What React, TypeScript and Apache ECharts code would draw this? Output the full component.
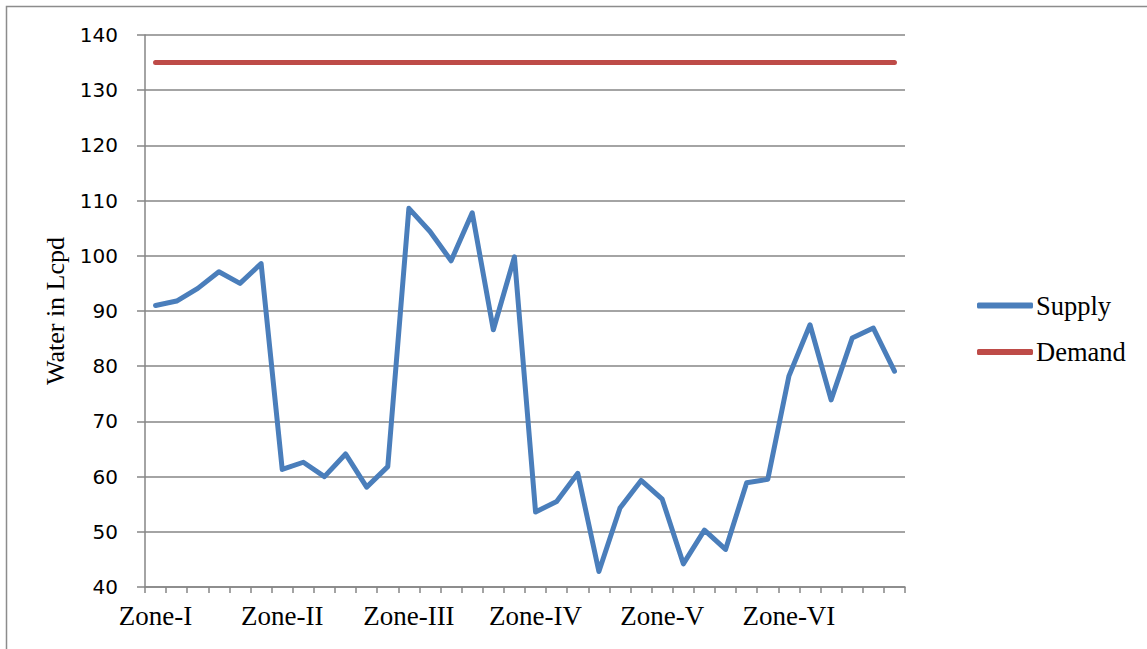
import React, { useEffect, useRef } from "react";
import * as echarts from "echarts";

const zoneLabels = ["Zone-I", "Zone-II", "Zone-III", "Zone-IV", "Zone-V", "Zone-VI"];
const pointsPerZone = 6;
const supply = [
  91.0, 91.8, 94.1, 97.1, 95.0, 98.6,
  61.3, 62.6, 60.0, 64.1, 58.1, 61.8,
  108.6, 104.4, 99.1, 107.8, 86.6, 99.8,
  53.6, 55.5, 60.6, 42.8, 54.3, 59.3,
  55.9, 44.2, 50.3, 46.8, 58.9, 59.5,
  78.2, 87.5, 73.9, 85.1, 86.9, 79.1,
];
const demand = supply.map(() => 135);
const categories = supply.map((_, i) => (i % pointsPerZone === 0 ? zoneLabels[i / pointsPerZone] : ""));

export default function App() {
  const ref = useRef<HTMLDivElement>(null);
  useEffect(() => {
    if (!ref.current) return;
    const chart = echarts.init(ref.current, undefined, { renderer: "svg" });
    const serif = "'Liberation Serif', 'Times New Roman', serif";
    const sans = "'DejaVu Sans', Verdana, sans-serif";
    chart.setOption({
      animation: false,
      backgroundColor: "#ffffff",
      graphic: [
        {
          type: "rect",
          shape: { x: 6.5, y: 6.5, width: 1200, height: 700 },
          style: { fill: "none", stroke: "#8c8c8c", lineWidth: 1.5 },
          silent: true,
        },
      ],
      grid: { left: 145, right: 242, top: 35, bottom: 62 },
      legend: {
        orient: "vertical",
        left: 977,
        top: 292,
        padding: 0,
        itemWidth: 56,
        itemHeight: 6,
        itemGap: 19.5,
        icon: "roundRect",
        textStyle: { fontFamily: serif, fontSize: 26.5, color: "#000", padding: [0, 0, 0, -2] },
        data: ["Supply", "Demand"],
      },
      xAxis: {
        type: "category",
        data: categories,
        boundaryGap: true,
        axisLine: { lineStyle: { color: "#868686", width: 1.5 } },
        axisTick: { show: true, interval: 0, length: 6, lineStyle: { color: "#868686", width: 1.5 } },
        axisLabel: {
          interval: 0,
          fontFamily: serif,
          fontSize: 27,
          color: "#000",
          margin: 15,
        },
        splitLine: { show: false },
      },
      yAxis: {
        type: "value",
        min: 40,
        max: 140,
        interval: 10,
        name: "Water in Lcpd",
        nameLocation: "middle",
        nameGap: 76,
        nameTextStyle: { fontFamily: serif, fontSize: 26, color: "#000" },
        axisLine: { show: true, lineStyle: { color: "#868686", width: 1.5 } },
        axisTick: { show: true, length: 8, lineStyle: { color: "#868686", width: 1.5 } },
        axisLabel: { fontFamily: sans, fontSize: 20, color: "#000", margin: 27 },
        splitLine: { show: true, lineStyle: { color: "#868686", width: 1.5 } },
      },
      series: [
        {
          name: "Supply",
          type: "line",
          data: supply,
          symbol: "none",
          color: "#4a7ebb",
          lineStyle: { width: 5, color: "#4a7ebb", cap: "round", join: "round" },
        },
        {
          name: "Demand",
          type: "line",
          data: demand,
          symbol: "none",
          color: "#be4b48",
          lineStyle: { width: 5, color: "#be4b48", cap: "round", join: "round" },
        },
      ],
    });
    return () => chart.dispose();
  }, []);
  return (
    <div
      ref={ref}
      style={{ position: "fixed", left: 0, top: 0, width: 1147, height: 649, background: "#fff" }}
    />
  );
}
